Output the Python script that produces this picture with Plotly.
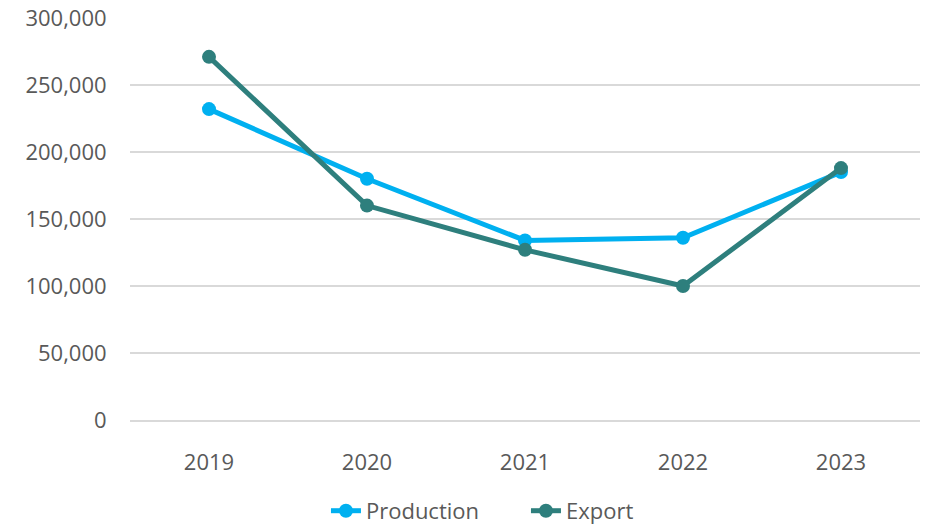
import plotly.graph_objects as go

years = ["2019", "2020", "2021", "2022", "2023"]
production = [232000, 180000, 134000, 136000, 185000]
export = [271000, 160000, 127000, 100000, 188000]

fig = go.Figure([
    go.Scatter(x=years, y=production, name="Production", mode="lines+markers",
               line=dict(color="#00B0F0", width=5), marker=dict(size=14)),
    go.Scatter(x=years, y=export, name="Export", mode="lines+markers",
               line=dict(color="#2E7F7D", width=5), marker=dict(size=14)),
])

# the page body adds 8px around the figure, so size/margins compensate
fig.update_layout(
    width=927, height=519,
    margin=dict(l=122, r=15, t=10, b=107, autoexpand=False),
    plot_bgcolor="white",
    paper_bgcolor="white",
    font=dict(family="Open Sans", size=22, color="#595959"),
    showlegend=True,
    legend=dict(orientation="h", x=0.343, xanchor="left", xref="container",
                y=0.031, yanchor="middle", yref="container",
                font=dict(size=22, color="#595959"), traceorder="normal",
                entrywidth=155),
    xaxis=dict(showgrid=False, showline=True, linecolor="#D9D9D9", linewidth=1.5,
               ticks="outside", ticklen=22, tickcolor="white", range=[-0.5, 4.5]),
    yaxis=dict(range=[0, 300000], dtick=50000, tickformat=",", gridcolor="#D9D9D9",
               gridwidth=1.5, zeroline=False, ticks="outside", ticklen=18,
               tickcolor="white", ticklabeloverflow="allow"),
)

fig.write_html("out.html")
